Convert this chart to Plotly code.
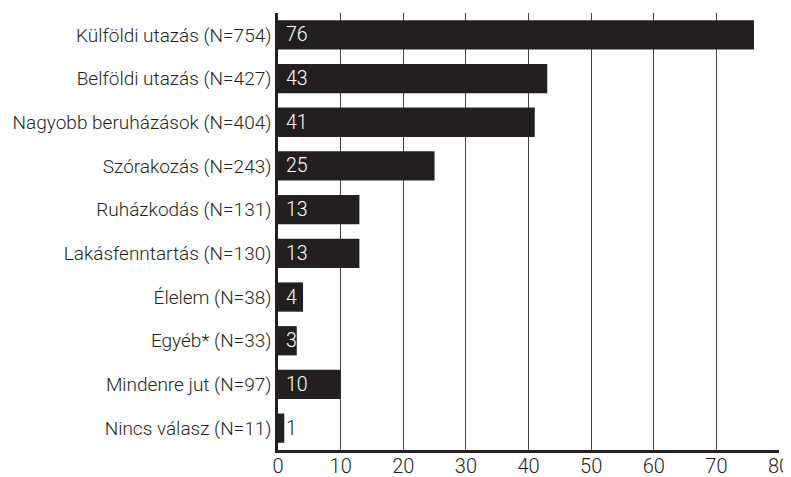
import plotly.graph_objects as go

categories = [
    "Külföldi utazás (N=754)",
    "Belföldi utazás (N=427)",
    "Nagyobb beruházások (N=404)",
    "Szórakozás (N=243)",
    "Ruházkodás (N=131)",
    "Lakásfenntartás (N=130)",
    "Élelem (N=38)",
    "Egyéb* (N=33)",
    "Mindenre jut (N=97)",
    "Nincs válasz (N=11)",
]
values = [76, 43, 41, 25, 13, 13, 4, 3, 10, 1]
x_ticks = [0, 10, 20, 30, 40, 50, 60, 70, 80]

FONT = "Roboto, Liberation Sans, sans-serif"
DARK = "#231f20"
FS = 19.5

fig = go.Figure()
fig.add_trace(go.Bar(
    x=values, y=categories, orientation="h",
    marker=dict(color=DARK, line=dict(width=0)),
    hoverinfo="skip",
))

for c, v in zip(categories, values):
    fig.add_annotation(
        x=0, y=c, xref="x", yref="y", text=str(v), showarrow=False,
        xanchor="left", xshift=6,
        font=dict(family=FONT, size=FS, weight=300, color="white" if v >= 3 else DARK),
    )

# the page body has an 8px margin, so the figure is sized/offset to compensate
fig.update_layout(
    width=783, height=469,
    margin=dict(l=270, r=12, t=5, b=27),
    paper_bgcolor="white", plot_bgcolor="white",
    bargap=0.33,
    showlegend=False,
    font=dict(family=FONT, size=FS, weight=300, color=DARK),
    xaxis=dict(
        range=[0, 80], tickvals=x_ticks, ticktext=[str(t) for t in x_ticks],
        showgrid=True, gridcolor="#444444", gridwidth=1,
        showline=True, linecolor=DARK, linewidth=2.5,
        zeroline=False, ticks="", fixedrange=True, automargin=False,
        ticklabelstandoff=-4, ticklabeloverflow="allow",
        tickfont=dict(family=FONT, size=20, weight=300, color=DARK),
    ),
    yaxis=dict(
        autorange="reversed", showgrid=False,
        showline=True, linecolor=DARK, linewidth=2.5,
        ticks="", ticklabelstandoff=0, automargin=False,
        tickfont=dict(family=FONT, size=19, weight=300, color=DARK),
    ),
)

fig.write_html("out.html")
